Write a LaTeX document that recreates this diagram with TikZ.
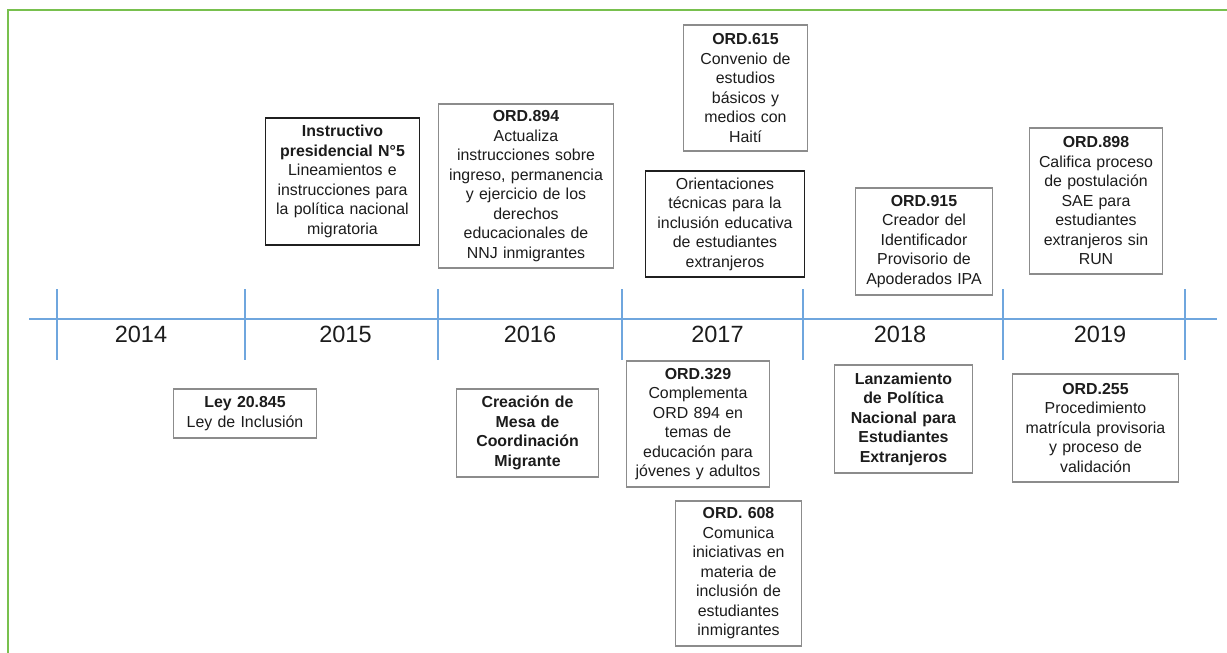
\documentclass[tikz,border=0pt]{standalone}
\usepackage{fontspec}
\setmainfont{Liberation Sans}
\usepackage{tikz}
\definecolor{marcoverde}{RGB}{120,192,78}
\definecolor{ejeazul}{RGB}{111,166,222}
\definecolor{bordegris}{RGB}{140,140,140}
\definecolor{textogris}{RGB}{28,28,28}
\tikzset{
    every node/.style={font=\fontsize{15.9}{19.5}\selectfont, text=textogris},
}

\begin{document}
\begin{tikzpicture}[x=1pt, y=-1pt,
        hito/.style={draw=bordegris, line width=1.4pt, fill=white, align=center, inner xsep=2pt, inner ysep=0pt},
        hitonegro/.style={hito, draw=black!88},
        anio/.style={font=\fontsize{23.5}{26}\selectfont},
        eje/.style={ejeazul, line width=1.5pt}
    ]
    \useasboundingbox (0,0) rectangle (1227,653);

    % marco verde
    \draw[marcoverde, line width=2pt] (8,653) -- (8,10) -- (1227,10);

    % linea de tiempo
    \coordinate (ejeini) at (29,319);
    \coordinate (ejefin) at (1217,319);
    \draw[eje] (ejeini) -- (ejefin);
    \foreach \x in {57,245,438,622,803,1003,1185}
        \draw[eje] (\x,289) -- (\x,360);

    % años
    \node[anio] (a2014) at (141,334.5) {2014};
    \node[anio] (a2015) at (345.5,334.5) {2015};
    \node[anio] (a2016) at (530,334.5) {2016};
    \node[anio] (a2017) at (717.5,334.5) {2017};
    \node[anio] (a2018) at (900,334.5) {2018};
    \node[anio] (a2019) at (1100,334.5) {2019};

    % hitos sobre la linea
    \node[hitonegro, text width=150pt, minimum height=127pt] (instr) at (342.5,181.5)
        {\textbf{Instructivo}\\\textbf{presidencial N°5}\\Lineamientos e\\instrucciones para\\la política nacional\\migratoria};
    \node[hito, text width=171pt, minimum height=164pt] (ord894) at (526,186)
        {\textbf{ORD.894}\\Actualiza\\instrucciones sobre\\ingreso, permanencia\\y ejercicio de los\\derechos\\educacionales de\\NNJ inmigrantes};
    \node[hito, text width=120pt, minimum height=126pt] (ord615) at (745.5,88)
        {\textbf{ORD.615}\\Convenio de\\estudios\\básicos y\\medios con\\Haití};
    \node[hitonegro, text width=155pt, minimum height=106pt] (orient) at (725,224)
        {Orientaciones\\técnicas para la\\inclusión educativa\\de estudiantes\\extranjeros};
    \node[hito, text width=133pt, minimum height=107pt] (ord915) at (924,241.5)
        {\textbf{ORD.915}\\Creador del\\Identificador\\Provisorio de\\Apoderados IPA};
    \node[hito, text width=129pt, minimum height=146pt] (ord898) at (1096,201)
        {\textbf{ORD.898}\\Califica proceso\\de postulación\\SAE para\\estudiantes\\extranjeros sin\\RUN};

    % hitos bajo la linea
    \node[hito, text width=139pt, minimum height=49pt] (ley) at (245,413.5)
        {\textbf{Ley 20.845}\\Ley de Inclusión};
    \node[hito, text width=138pt, minimum height=88pt] (mesa) at (527.5,433)
        {\textbf{Creación de}\\\textbf{Mesa de}\\\textbf{Coordinación}\\\textbf{Migrante}};
    \node[hito, text width=139pt, minimum height=126pt] (ord329) at (698,424)
        {\textbf{ORD.329}\\Complementa\\ORD 894 en\\temas de\\educación para\\jóvenes y adultos};
    \node[hito, text width=122pt, minimum height=145pt] (ord608) at (738.5,573.5)
        {\textbf{ORD. 608}\\Comunica\\iniciativas en\\materia de\\inclusión de\\estudiantes\\inmigrantes};
    \node[hito, text width=134pt, minimum height=108pt] (lanz) at (903.5,419)
        {\textbf{Lanzamiento}\\\textbf{de Política}\\\textbf{Nacional para}\\\textbf{Estudiantes}\\\textbf{Extranjeros}};
    \node[hito, text width=162pt, minimum height=108pt] (ord255) at (1095.5,428)
        {\textbf{ORD.255}\\Procedimiento\\matrícula provisoria\\y proceso de\\validación};
\end{tikzpicture}
\end{document}
